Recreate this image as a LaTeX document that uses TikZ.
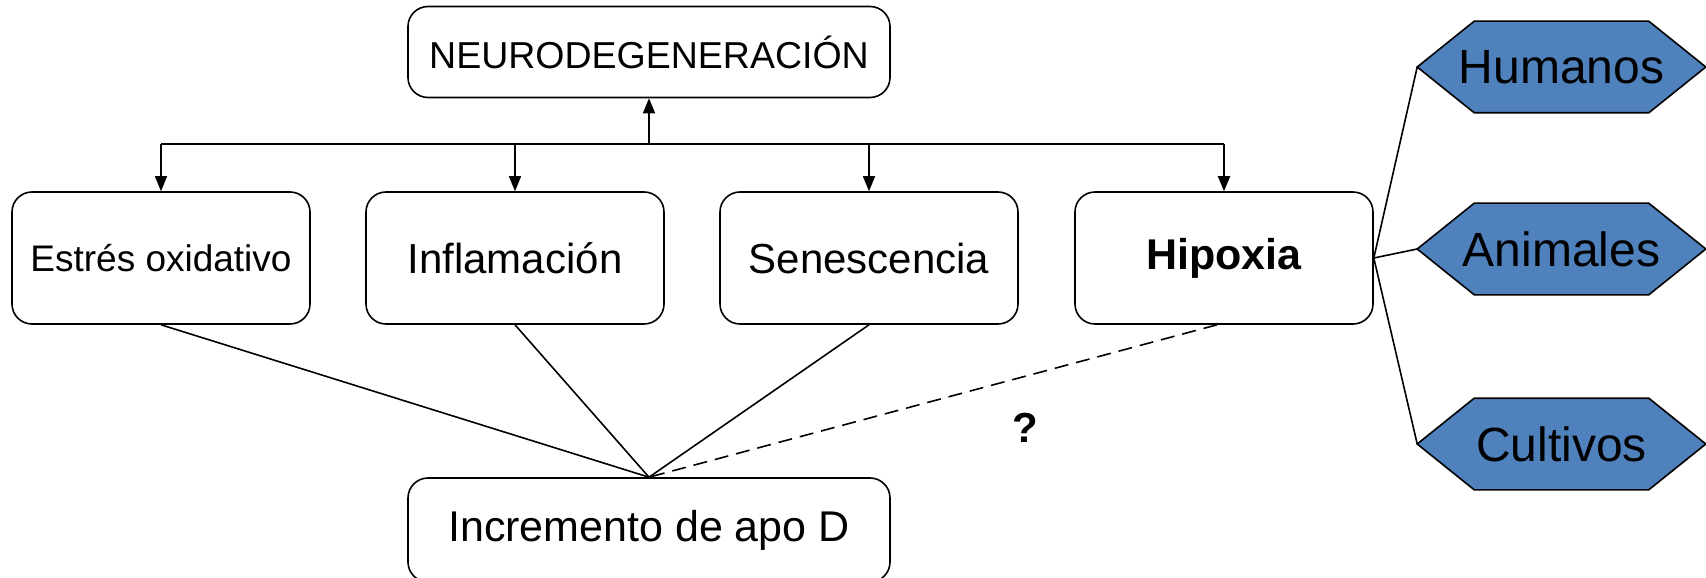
\documentclass[tikz,border=0pt]{standalone}
\usepackage{fontspec}
\setmainfont{Liberation Sans}
\usepackage{tikz}
\usetikzlibrary{positioning,
				arrows.meta,
				backgrounds}

\begin{document}
\begin{tikzpicture}[x=1bp,y=-1bp,line width=1.6bp,
  caja/.style={draw,rectangle,rounded corners=20bp,inner sep=0pt,
    minimum width=298bp,minimum height=132bp,
    font=\fontsize{42bp}{50bp}\selectfont},
  hexa/.style={rectangle,inner sep=0pt,
    minimum width=287bp,minimum height=90bp,
    font=\fontsize{48bp}{56bp}\selectfont},
  flecha/.style={-{Triangle[length=15bp,width=12bp]}}]
  \definecolor{hexblue}{RGB}{79,129,189}
  \useasboundingbox (0,0) rectangle (1706,578);
  % cajas
  \node[caja,minimum width=482bp,minimum height=91bp,
    font=\fontsize{37.5bp}{44bp}\selectfont] (neuro) at (649,52) {NEURODEGENERACIÓN};
  \node[caja,font=\fontsize{37bp}{44bp}\selectfont] (estres) at (161,258) {Estrés oxidativo};
  \node[caja] (infla) at (515,258) {Inflamación};
  \node[caja] (senes) at (869,258) {Senescencia};
  \node[caja,font=\fontsize{43bp}{50bp}\selectfont\bfseries] (hipox) at (1224,258) {Hipoxia};
  \node[caja,minimum width=482bp,minimum height=104bp,
    font=\fontsize{43bp}{50bp}\selectfont] (apo) at (649,530) {Incremento de apo D};
  \node[font=\fontsize{42bp}{50bp}\selectfont\bfseries] (preg) at (1025,428) {?};
  % modelos
  \node[hexa] (hum) at (1561.5,67) {Humanos};
  \node[hexa] (anim) at (1561.5,249) {Animales};
  \node[hexa] (cult) at (1561.5,444) {Cultivos};
  % flechas
  \coordinate (bar) at (649,144);
  \draw[flecha] (bar) -- (neuro.south);
  \draw (estres.north |- bar) -- (hipox.north |- bar);
  \foreach \n in {estres,infla,senes,hipox}
    \draw[flecha] (\n.north |- bar) -- (\n.north);
  % lineas
  \draw (estres.south) -- (apo.north);
  \draw (infla.south) -- (apo.north);
  \draw (senes.south) -- (apo.north);
  \draw[dash pattern=on 14bp off 8bp] ([xshift=-7bp]hipox.south) -- (apo.north);
  \foreach \n in {hum,anim,cult}
    \draw (hipox.east) -- (\n.west);
  % hexagonos
  \begin{pgfonlayer}{background}
    \foreach \n in {hum,anim,cult}
      \filldraw[fill=hexblue,line width=1.6bp] (\n.west) -- ([xshift=57bp]\n.north west)
        -- ([xshift=-57bp]\n.north east) -- (\n.east)
        -- ([xshift=-57bp]\n.south east) -- ([xshift=57bp]\n.south west) -- cycle;
  \end{pgfonlayer}
\end{tikzpicture}
\end{document}
